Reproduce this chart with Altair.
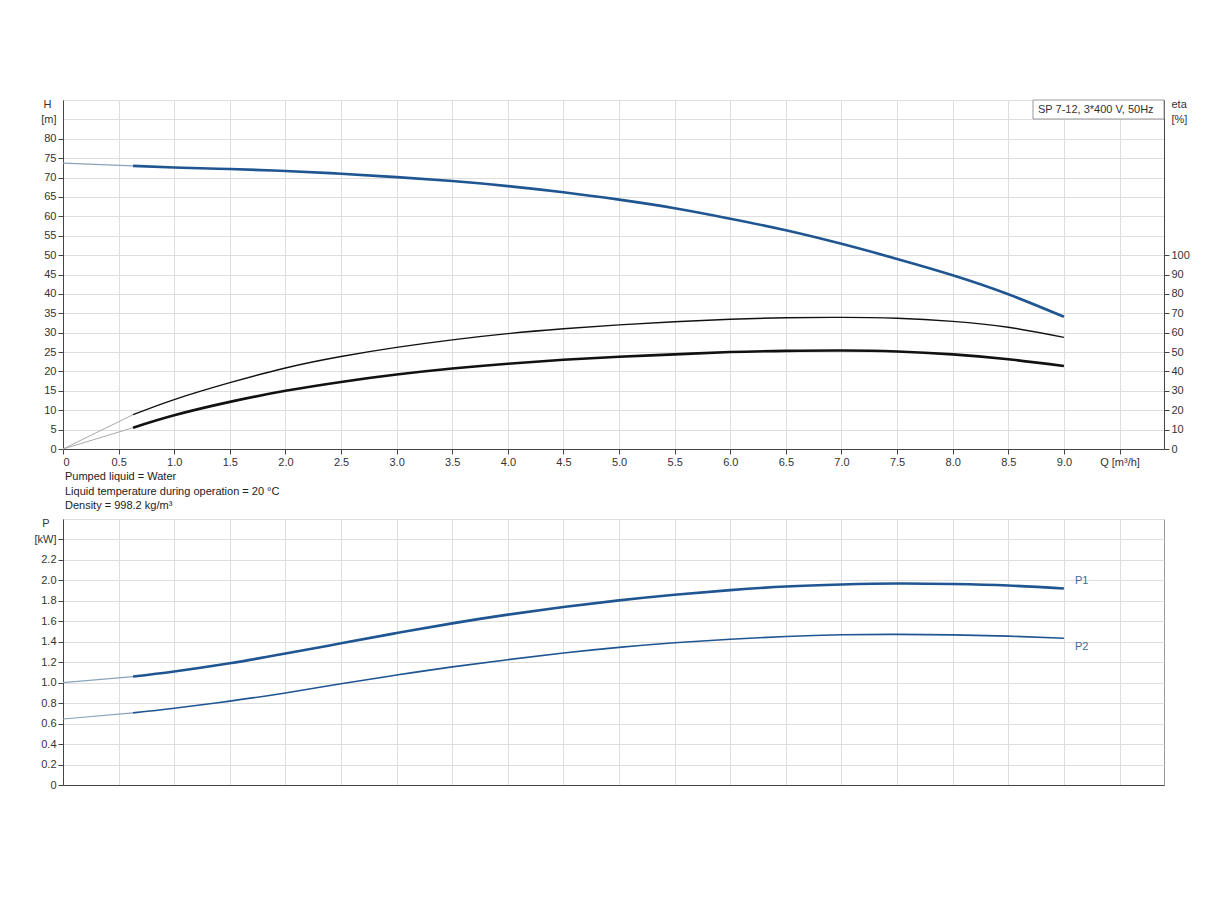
"""Pump performance curves: head, efficiency and power against flow."""

from __future__ import annotations

import altair as alt
import pandas as pd

# flow points (m³/h); 0.63 is where the duty range starts
Q = [0.0, 0.63, 1.0, 1.5, 2.0, 2.5, 3.0, 3.5, 4.0, 4.5, 5.0, 5.5, 6.0, 6.5, 7.0, 7.5, 8.0, 8.5, 9.0]
HEAD = [73.7, 73.0, 72.6, 72.2, 71.7, 71.0, 70.1, 69.1, 67.8, 66.2, 64.3, 62.1, 59.4, 56.4, 52.9, 49.0, 44.8, 39.9, 34.1]
ETA_PUMP = [0.0, 17.7, 25.5, 34.2, 41.8, 47.7, 52.4, 56.3, 59.5, 62.0, 64.0, 65.6, 66.9, 67.7, 67.9, 67.4, 65.8, 62.8, 57.6]
ETA_TOTAL = [0.0, 11.0, 17.4, 24.3, 30.0, 34.6, 38.4, 41.5, 44.0, 46.0, 47.6, 48.8, 50.0, 50.6, 50.8, 50.3, 48.8, 46.3, 42.8]
P1 = [1.00, 1.06, 1.11, 1.19, 1.285, 1.385, 1.485, 1.58, 1.665, 1.74, 1.805, 1.86, 1.905, 1.94, 1.96, 1.97, 1.965, 1.95, 1.92]
P2 = [0.645, 0.705, 0.75, 0.82, 0.90, 0.99, 1.075, 1.155, 1.225, 1.29, 1.345, 1.39, 1.425, 1.452, 1.468, 1.472, 1.467, 1.455, 1.435]
Q_DUTY_START = 0.63

X_TICKS = [0, 0.5, 1.0, 1.5, 2.0, 2.5, 3.0, 3.5, 4.0, 4.5, 5.0, 5.5, 6.0, 6.5, 7.0, 7.5, 8.0, 8.5, 9.0, 9.5]
H_TICKS = [0, 5, 10, 15, 20, 25, 30, 35, 40, 45, 50, 55, 60, 65, 70, 75, 80, 85, 90]
ETA_TICKS = [0, 10, 20, 30, 40, 50, 60, 70, 80, 90, 100, 170, 180]
P_TICKS = [0, 0.2, 0.4, 0.6, 0.8, 1.0, 1.2, 1.4, 1.6, 1.8, 2.0, 2.2, 2.4, 2.6]

PUMP_LABEL = "SP 7-12, 3*400 V, 50Hz"
NOTES = [
    "Pumped liquid = Water",
    "Liquid temperature during operation = 20 °C",
    "Density = 998.2 kg/m³",
]

BLUE = "#1f5591"
FONT = "Liberation Sans"
WIDTH = 1101

frame = pd.DataFrame(
    {"Q": Q, "H": HEAD, "eta_pump": ETA_PUMP, "eta_total": ETA_TOTAL, "P1": P1, "P2": P2}
)
extrap = frame[frame["Q"] <= Q_DUTY_START]
duty = frame[frame["Q"] >= Q_DUTY_START]

x_scale = alt.Scale(domain=[0, 9.9], nice=False)
x_top = alt.X(
    "Q:Q",
    scale=x_scale,
    axis=alt.Axis(
        values=X_TICKS,
        title=None,
        labelExpr="datum.value == 0 ? '0' : datum.value > 9.4 ? 'Q [m³/h]' : format(datum.value, '.1f')",
    ),
)
x_bottom = alt.X(
    "Q:Q",
    scale=x_scale,
    axis=alt.Axis(values=X_TICKS, title=None, labels=False, ticks=False),
)


def _y(field: str, domain: list[float], axis: alt.Axis) -> alt.Y:
    return alt.Y(f"{field}:Q", scale=alt.Scale(domain=domain, nice=False), axis=axis)


h_axis = alt.Axis(
    values=H_TICKS,
    title=None,
    labelExpr="datum.value == 90 ? 'H' : datum.value == 85 ? '[m]' : datum.label",
    labelOffset={"condition": {"test": "datum.value == 90", "value": 4}, "value": 0},
    labelPadding={"condition": {"test": "datum.value == 90", "value": 7}, "value": 2},
    tickOpacity={"condition": {"test": "datum.value > 80", "value": 0}, "value": 1},
)
eta_axis = alt.Axis(
    values=ETA_TICKS,
    title=None,
    orient="right",
    grid=False,
    labelExpr="datum.value == 180 ? 'eta' : datum.value == 170 ? '[%]' : datum.label",
    labelOffset={"condition": {"test": "datum.value == 180", "value": 4}, "value": 0},
    tickOpacity={"condition": {"test": "datum.value > 100", "value": 0}, "value": 1},
)
p_axis = alt.Axis(
    values=P_TICKS,
    title=None,
    labelExpr="datum.value == 0 ? '0' : datum.value > 2.5 ? 'P' : datum.value > 2.3 ? '[kW]' : format(datum.value, '.1f')",
    labelOffset={"condition": {"test": "datum.value > 2.5", "value": 4}, "value": 0},
    labelPadding={"condition": {"test": "datum.value > 2.5", "value": 9}, "value": 2},
    tickOpacity={"condition": {"test": "datum.value > 2.5", "value": 0}, "value": 1},
)


def _line(data: pd.DataFrame, x: alt.X, y: alt.Y, color: str, width: float) -> alt.Chart:
    return (
        alt.Chart(data)
        .mark_line(color=color, strokeWidth=width, interpolate="natural")
        .encode(x=x, y=y)
    )


h_y = _y("H", [0, 90], h_axis)
pump_box = alt.Chart(pd.DataFrame({"label": [PUMP_LABEL]}))
head_layer = alt.layer(
    _line(extrap, x_top, h_y, "#8aa2bd", 1.2),
    _line(duty, x_top, h_y, BLUE, 2.6),
    pump_box.mark_rect(fill="white", stroke="#999", strokeWidth=1).encode(
        x=alt.value(970), x2=alt.value(WIDTH), y=alt.value(0), y2=alt.value(19)
    ),
    pump_box.mark_text(align="left", baseline="middle", fontSize=11, font=FONT, color="#333").encode(
        x=alt.value(975), y=alt.value(10), text="label:N"
    ),
)
eta_pump_y = _y("eta_pump", [0, 180], eta_axis)
eta_total_y = _y("eta_total", [0, 180], eta_axis)
eta_layer = alt.layer(
    _line(extrap, x_top, eta_pump_y, "#aaaaaa", 1),
    _line(duty, x_top, eta_pump_y, "#111111", 1.4),
    _line(extrap, x_top, eta_total_y, "#aaaaaa", 1),
    _line(duty, x_top, eta_total_y, "#111111", 2.6),
)
top = (
    alt.layer(head_layer, eta_layer)
    .resolve_scale(y="independent")
    .properties(width=WIDTH, height=349)
)

p1_y = _y("P1", [0, 2.6], p_axis)
p2_y = _y("P2", [0, 2.6], p_axis)
last = frame.tail(1)
bottom = (
    alt.layer(
        _line(extrap, x_bottom, p1_y, "#8aa2bd", 1.2),
        _line(duty, x_bottom, p1_y, BLUE, 2.6),
        _line(extrap, x_bottom, p2_y, "#8aa2bd", 1.2),
        _line(duty, x_bottom, p2_y, BLUE, 1.6),
        alt.Chart(last).mark_text(align="left", dx=11, dy=-8, fontSize=11, font=FONT, color="#3a6a9e").encode(
            x=x_bottom, y=p1_y, text=alt.value("P1")
        ),
        alt.Chart(last).mark_text(align="left", dx=11, dy=9, fontSize=11, font=FONT, color="#3a6a9e").encode(
            x=x_bottom, y=p2_y, text=alt.value("P2")
        ),
    )
    .properties(
        width=WIDTH,
        height=266,
        title=alt.TitleParams(
            NOTES,
            anchor="start",
            frame="group",
            font=FONT,
            fontSize=11,
            fontWeight="normal",
            color="#222",
            lineHeight=14.3,
            offset=6,
            dx=2,
        ),
    )
)

chart = (
    alt.vconcat(top, bottom, spacing=2)
    .properties(padding={"left": 25, "top": 89, "right": 10, "bottom": 10})
    .configure_view(stroke="#999999", strokeWidth=1)
    .configure_axis(
        labelFont=FONT,
        labelFontSize=11,
        labelColor="#333333",
        domainColor="#444444",
        tickColor="#444444",
        gridColor="#dedede",
        tickSize=5,
    )
)

chart.save("out.html", embed_options={"renderer": "svg", "actions": False})
